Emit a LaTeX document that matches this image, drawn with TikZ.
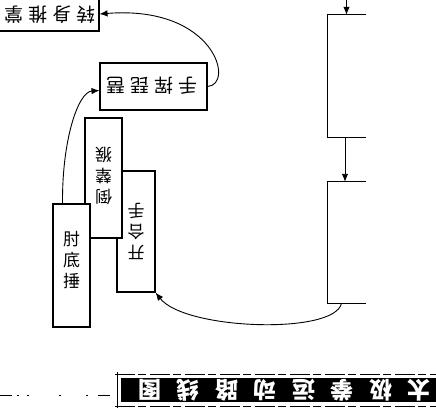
\documentclass[tikz,border=0pt]{standalone}
\usepackage{fontspec}
\newfontfamily\cjk{Noto Sans CJK SC}
\usetikzlibrary{arrows.meta}
\begin{document}
\begin{tikzpicture}[x=1pt,y=-1pt,
  box/.style={draw,line width=1.1pt,fill=white,inner sep=0pt},
  ghost/.style={draw=none,inner sep=0pt},
  arr/.style={line width=0.9pt,-{Latex[length=8pt,width=6.5pt]}},
  lbl/.style={font=\cjk\fontsize{17}{21}\selectfont,align=center,inner sep=0pt},
  hlbl/.style={font=\cjk\fontsize{19}{20}\selectfont,inner sep=0pt},
  ban/.style={font=\cjk\bfseries\fontsize{23}{23}\selectfont,text=white,inner sep=0pt,rotate=180}]
\useasboundingbox (0,0) rectangle (436,417);
% boxes
\node[box,minimum width=104pt,minimum height=36pt] (tl) at (47,13) {};
\node[box,minimum width=107pt,minimum height=47pt] (b2) at (153.5,86.5) {};
\node[box,minimum width=38pt,minimum height=121pt] (B) at (136,231.5) {};
\node[box,minimum width=37pt,minimum height=120pt] (A) at (103.5,178) {};
\node[box,minimum width=37pt,minimum height=123pt] (C) at (71.5,265.5) {};
\node[ghost,minimum width=37pt,minimum height=122pt] (D) at (346.5,76) {};
\node[ghost,minimum width=37pt,minimum height=121pt] (E) at (346.5,242.5) {};
\draw[line width=1.1pt] ([xshift=1pt]D.north east) -- (D.north west) -- (D.south west) -- ([xshift=1pt]D.south east);
\draw[line width=1.1pt] ([xshift=1pt]E.north east) -- (E.north west) -- (E.south west) -- ([xshift=1pt]E.south east);
% labels
\node[hlbl,rotate=180] (tlt) at (50,15) {转\hspace{5pt}身\hspace{5pt}推\hspace{5pt}掌};
\node[hlbl,rotate=180] (b2t) at (152,86) {手\hspace{5pt}挥\hspace{5pt}琵\hspace{5pt}琶};
\node[lbl,rotate=180] (At) at (103.5,176) {倒\\辇\\猴};
\node[lbl,rotate=180] (Bt) at (136,231) {开\\合\\手};
\node[lbl] (Ct) at (71.5,260) {肘\\底\\捶};
% connectors
\coordinate (top) at (346.5,0);
\draw[arr] (top) -- (D.north);
\draw[arr] ([xshift=-1.5pt]D.south) -- ([xshift=-1.5pt]E.north);
\draw[arr] ([xshift=-5pt]E.south) .. controls (335,335) and (185,330) .. (B.south east);
\draw[arr] ([xshift=-9pt]C.north) .. controls (62,140) and (78,92) .. ([yshift=-4pt]b2.west);
\draw[arr] (b2.east) .. controls (235,85) and (215,5) .. ([yshift=-1pt]tl.east);
% banner
\coordinate (bl) at (0,395);
\coordinate (br) at (113,395);
\draw[line width=0.8pt,dash pattern=on 12pt off 5pt on 2pt off 8pt on 2pt off 30pt on 2pt off 25pt on 2pt off 10pt] (bl) -- (br);
\draw[line width=0.7pt,dash pattern=on 20pt off 3pt on 8pt off 4pt] (115,374) -- (436,374);
\draw[line width=0.7pt,dash pattern=on 20pt off 3pt on 8pt off 4pt] (115,406) -- (436,406);
\draw[line width=0.9pt] (117,372) -- (117,408);
\fill[black] (121,378) rectangle (436,402);
\foreach \ch [count=\i from 0] in {太,极,拳,运,动,路,线,图} {
  \node[ban] at (419-\i*38.5,390) {\ch};
}
\end{tikzpicture}
\end{document}
